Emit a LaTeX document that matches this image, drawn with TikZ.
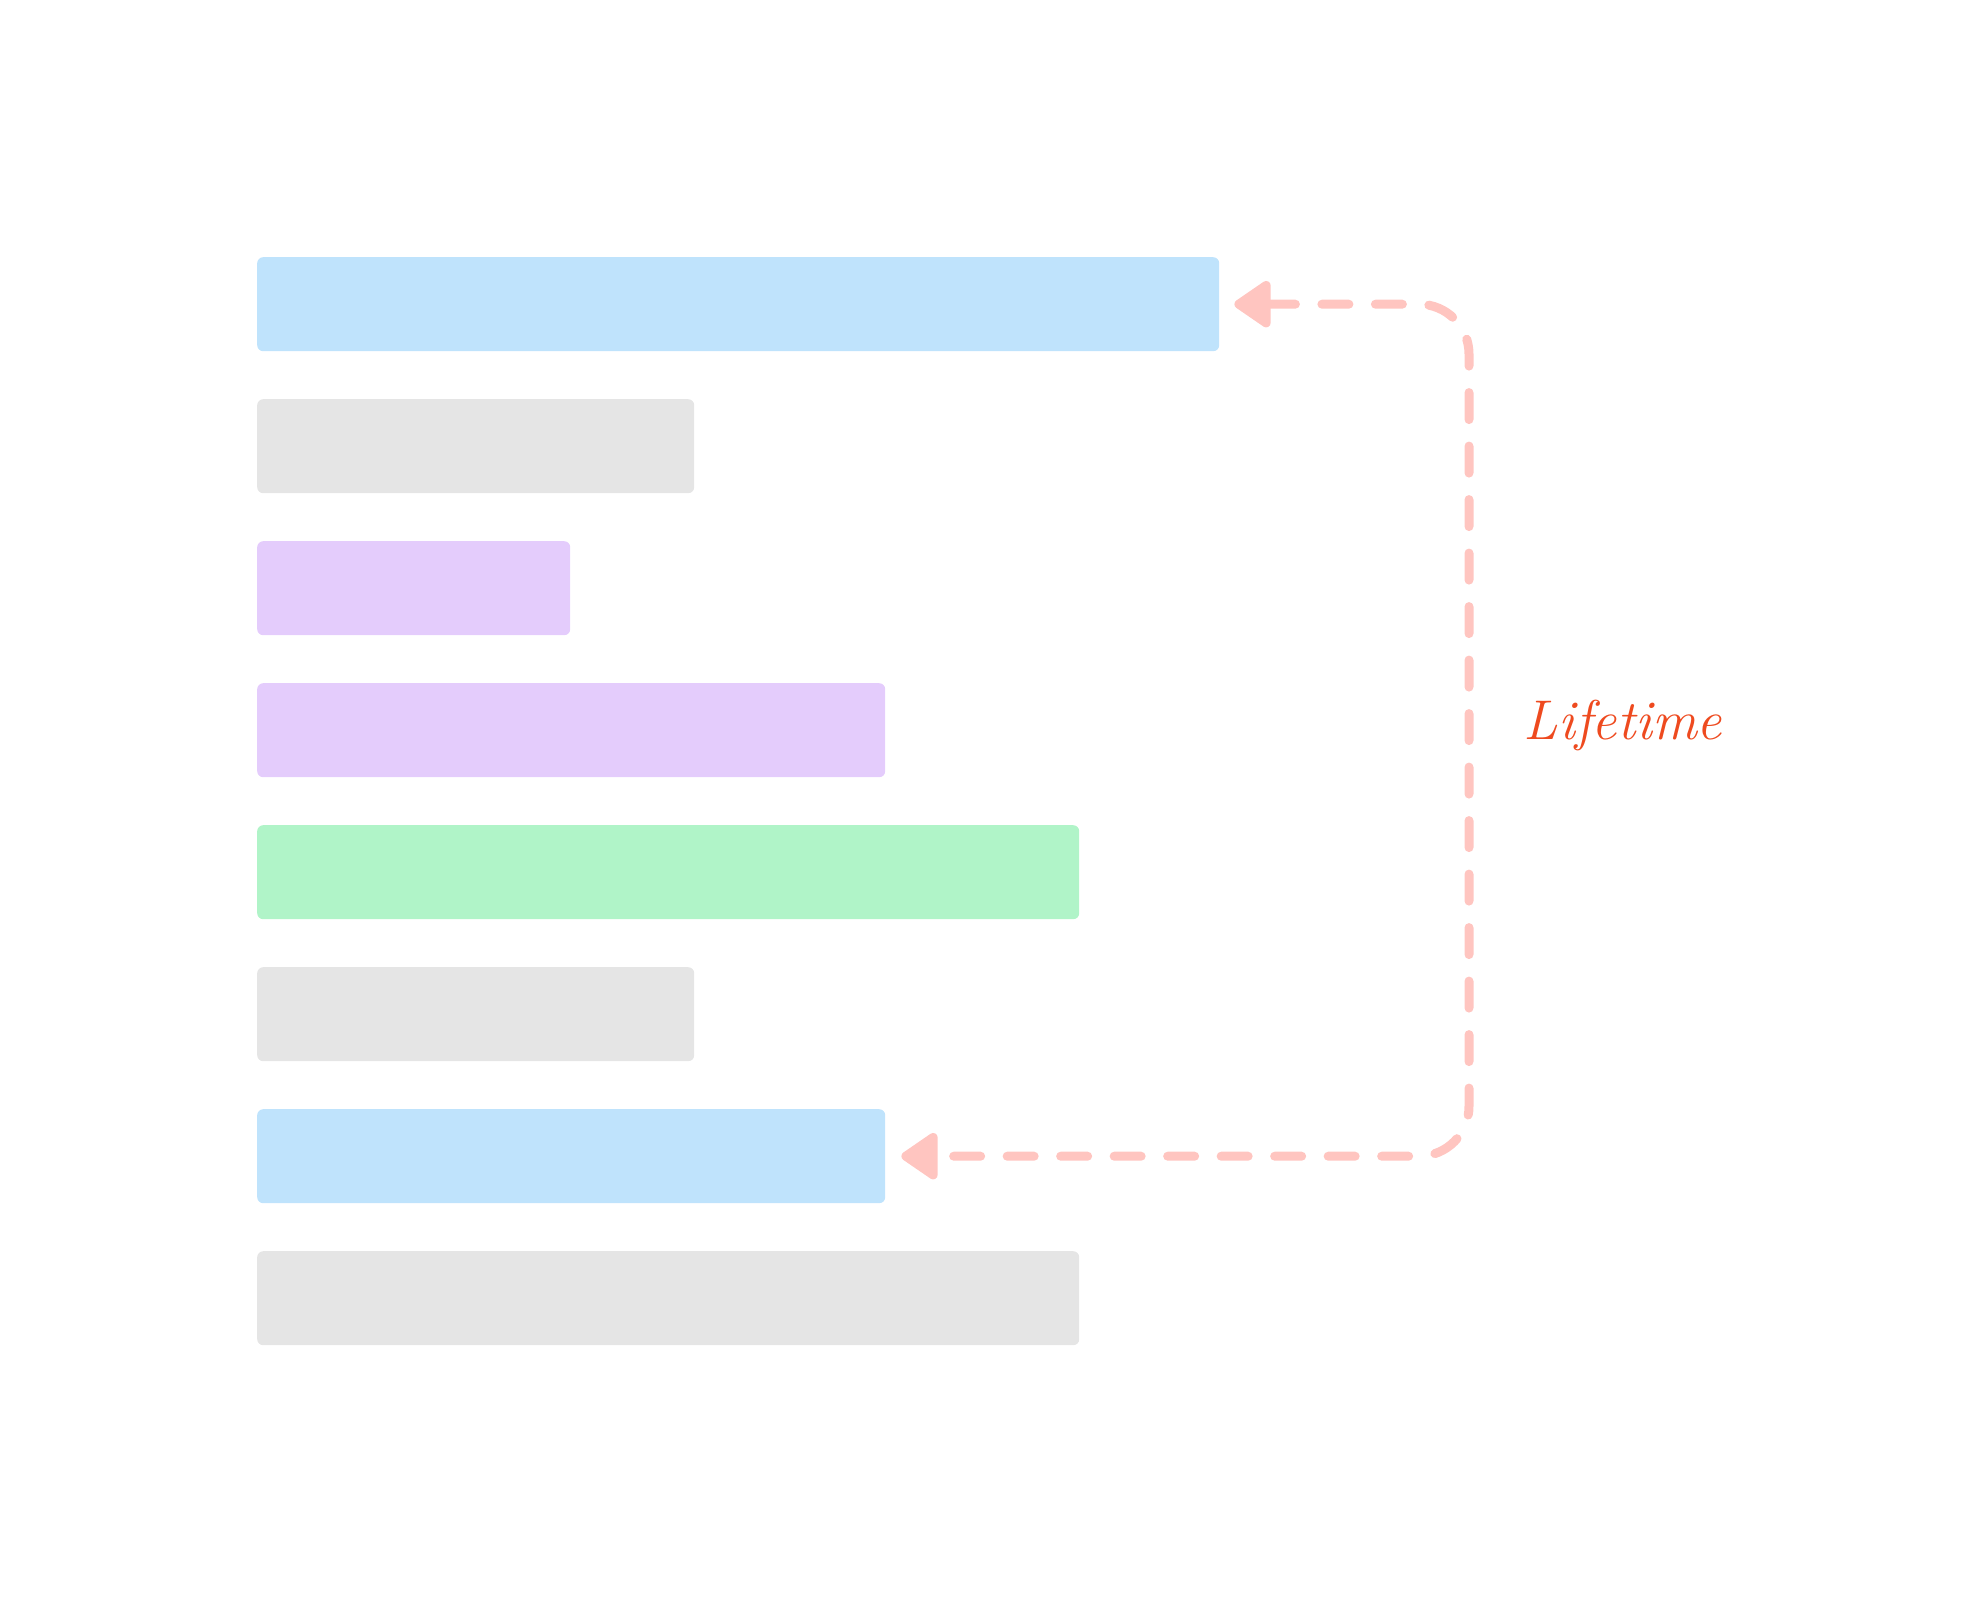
\documentclass[tikz,border=0pt]{standalone}
\usepackage{tikz}
\usepackage{xcolor}
\usetikzlibrary{arrows.meta, positioning, calc}
\definecolor{Bar_Blue}{HTML}{BFE3FC}
\definecolor{Bar_Gray}{HTML}{E5E5E5}
\definecolor{Bar_Purple}{HTML}{E4CCFC}
\definecolor{Bar_Green}{HTML}{B0F4C8}
\definecolor{Life_Pink}{HTML}{FFC5C0}
\definecolor{Life_Red}{HTML}{EE4A1F}

\begin{document}
\begin{tikzpicture}[x=1pt, y=-1pt,
    bar/.style={anchor=north west, inner sep=0pt, minimum height=94pt, rounded corners=6pt},
    lifeline/.style={Life_Pink, line width=9pt, line cap=round, dash pattern=on 27pt off 26.5pt,
        rounded corners=50pt, {Triangle[length=40pt, width=52pt, round]}-{Triangle[length=40pt, width=52pt, round]}}]
    % Canvas
    \useasboundingbox (0,0) rectangle (1984,1602);

    % Bars
    \node[bar, fill=Bar_Blue,   minimum width=962pt] (b1) at (257,257) {};
    \node[bar, fill=Bar_Gray,   minimum width=437pt] (b2) at (257,399) {};
    \node[bar, fill=Bar_Purple, minimum width=313pt] (b3) at (257,541) {};
    \node[bar, fill=Bar_Purple, minimum width=628pt] (b4) at (257,683) {};
    \node[bar, fill=Bar_Green,  minimum width=822pt] (b5) at (257,825) {};
    \node[bar, fill=Bar_Gray,   minimum width=437pt] (b6) at (257,967) {};
    \node[bar, fill=Bar_Blue,   minimum width=628pt] (b7) at (257,1109) {};
    \node[bar, fill=Bar_Gray,   minimum width=822pt] (b8) at (257,1251) {};

    % Lifetime connector
    \coordinate (rail) at (1469,0);
    \draw[lifeline] ([xshift=15pt]b1.east) -- (b1.east -| rail) -- (b7.east -| rail) -- ([xshift=16pt]b7.east);
    \node[Life_Red, font=\fontsize{56}{60}\selectfont\itshape] (life) at (1623,725) {Lifetime};
\end{tikzpicture}
\end{document}
